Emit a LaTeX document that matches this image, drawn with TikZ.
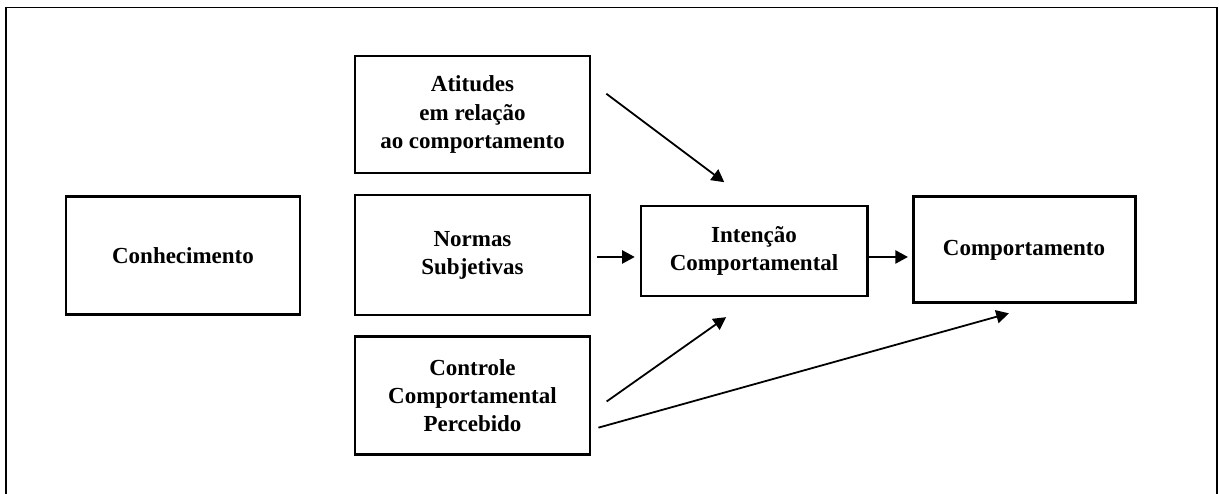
\documentclass[tikz,border=0pt]{standalone}
\usepackage{fontspec}
\setmainfont{Liberation Serif}
\usetikzlibrary{arrows.meta}

\begin{document}
\begin{tikzpicture}[
        caixa/.style={draw,line width=1.4pt,align=center,inner sep=0pt,font=\fontsize{10.9}{13.3}\selectfont\bfseries},
        seta/.style={-{Triangle[length=0.21cm,width=0.22cm]},line width=0.85pt}
    ]
        \useasboundingbox (0,0) rectangle (20.317,8.233);
        \draw[line width=0.9pt] (0.1,0) -- (0.1,8.108) -- (20.29,8.108) -- (20.29,0);

        \node[caixa,minimum width=3.9cm,minimum height=1.967cm] (conhecimento) at (3.05,3.967) {Conhecimento};

        \node[caixa,minimum width=3.917cm,minimum height=1.95cm] (atitudes) at (7.875,6.325) {Atitudes\\em relação\\ao comportamento};
        \node[caixa,minimum width=3.917cm,minimum height=2cm] (normas) at (7.875,3.983) {Normas\\Subjetivas};
        \node[caixa,minimum width=3.917cm,minimum height=1.98cm] (controle) at (7.875,1.642) {Controle\\Comportamental\\Percebido};

        \node[caixa,minimum width=3.767cm,minimum height=1.5cm] (intencao) at (12.567,4.05) {Intenção\\Comportamental};
        \node[caixa,minimum width=3.7cm,minimum height=1.767cm] (comportamento) at (17.067,4.067) {Comportamento};

        \draw[seta,shorten <=0.31cm,shorten >=0.62cm] (atitudes.15) -- (intencao.north);
        \draw[seta,shorten <=0.1cm,shorten >=0.08cm] (normas.east |- intencao.183.5) -- (intencao.183.5);
        \draw[seta,shorten >=0.06cm] (intencao.-3.5) -- (intencao.-3.5 -| comportamento.west);
        \draw[seta,shorten <=0.31cm,shorten >=0.57cm] (controle.-8) -- (intencao.south);
        \draw[seta,shorten <=0.12cm,shorten >=0.55cm] (controle.-16) -- (comportamento.-73);
    \end{tikzpicture}
\end{document}
